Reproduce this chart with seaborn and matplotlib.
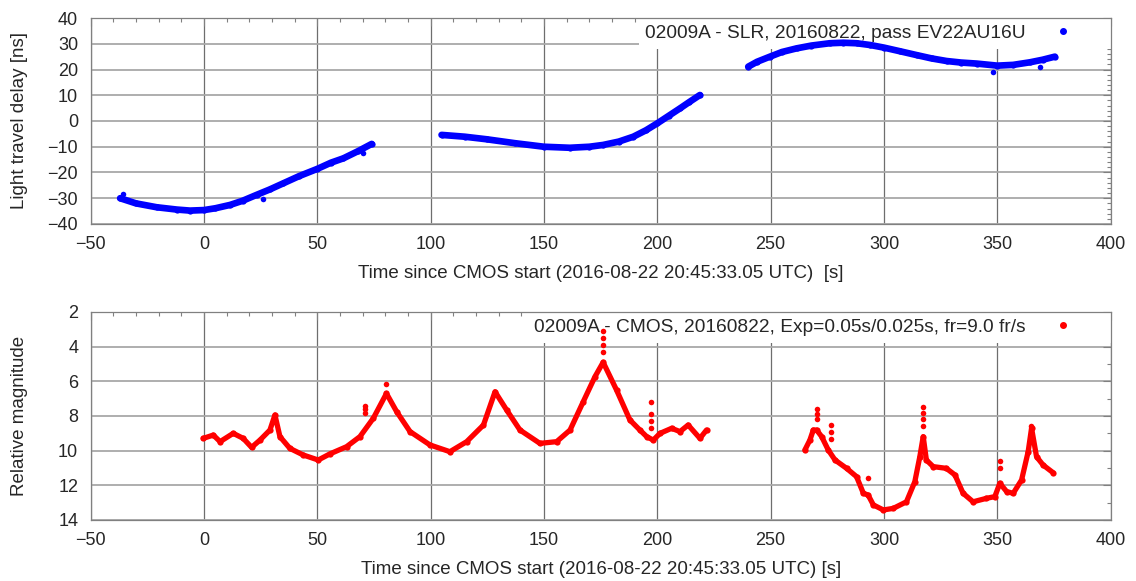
import seaborn as sns
import matplotlib.pyplot as plt
import pandas as pd
import numpy as np
from matplotlib.lines import Line2D
from matplotlib.ticker import MultipleLocator

# SLR light travel delay (three passes)
slr_t1 = [-37, -30, -20.9, -12, -6.2, 0, 5, 11.5, 17, 23.2, 29, 35, 42, 50, 56, 61.5, 68, 74]
slr_d1 = [-30, -32, -33.5, -34.4, -34.8, -34.6, -33.9, -32.6, -31.0, -28.7, -26.6, -24.2,
          -21.4, -18.6, -16.2, -14.5, -11.7, -8.9]
slr_t2 = [104.8, 115, 124.7, 137, 150, 161.4, 170, 176.1, 183, 189.4, 195, 200, 205, 210, 214, 218.8]
slr_d2 = [-5.4, -6.1, -7.1, -8.6, -10.0, -10.4, -10.0, -9.3, -8.0, -6.1, -3.6, -0.9, 2.0,
          4.9, 7.3, 10.1]
slr_t3 = [240.1, 244, 249.7, 255, 261.4, 268, 276.1, 282, 287.9, 294, 300, 307, 314.4,
          321, 327.6, 334, 340.9, 350, 357, 364.4, 370, 375.4]
slr_d3 = [21.1, 23.0, 25.0, 26.8, 28.2, 29.3, 30.2, 30.4, 30.2, 29.5, 28.5, 27.1, 25.6,
          24.3, 23.3, 22.7, 22.3, 21.5, 21.8, 22.8, 23.8, 25.0]
slr_out_t = [-35.6, 26.2, 70.3, 348, 368.8]
slr_out_d = [-28.3, -30.4, -12.5, 19.2, 21.1]

# CMOS relative magnitude
cmos_t1 = [-0.3, 4.1, 7.1, 12.9, 17.3, 21.0, 24.7, 29.1, 31.3, 33.5, 37.9, 43.8, 50.4,
           55.5, 62.9, 68.8, 74.7, 80.5, 85.0, 90.9, 99.7, 108.5, 115.9, 123.3, 128.4,
           133.5, 139.4, 148.2, 155.6, 161.5, 167.3, 172.5, 176.1, 182.0, 187.9, 192.3,
           195.3, 198.2, 201.2, 206.3, 210.0, 213.6, 218.8, 221.7]
cmos_m1 = [9.29, 9.1, 9.48, 9.0, 9.29, 9.81, 9.39, 8.81, 7.94, 9.19, 9.87, 10.25, 10.54,
           10.19, 9.77, 9.19, 8.13, 6.7, 7.75, 8.90, 9.67, 10.06, 9.48, 8.52, 6.6,
           7.65, 8.81, 9.58, 9.48, 8.81, 7.18, 5.73, 4.9, 6.5, 8.23, 8.81,
           9.19, 9.39, 9.0, 8.71, 8.9, 8.52, 9.29, 8.81]
cmos_t2 = [265.1, 267.3, 268.8, 270.3, 272.5, 275.4, 278.4, 283.5, 287.9, 290.9, 293.0,
           295.3, 299.7, 304.1, 309.9, 313.6, 315.8, 317.3, 318.7, 321.7, 327.5, 331.3,
           334.9, 339.3, 345.2, 348.9, 351.1, 354.1, 357.0, 360.7, 363.6, 365.1, 367.3,
           370.2, 374.6]
cmos_m2 = [9.96, 9.39, 8.81, 8.81, 9.19, 9.96, 10.54, 11.02, 11.5, 12.46, 12.56,
           13.13, 13.42, 13.33, 12.95, 11.79, 10.35, 9.19, 10.54, 10.92, 11.02, 11.4,
           12.46, 12.95, 12.75, 12.65, 11.88, 12.36, 12.46, 11.69, 10.06, 8.7, 10.35,
           10.83, 11.27]
# isolated spikes (single frames)
cmos_out_t = [71, 71, 71, 80.5, 176, 176, 176, 176, 197, 197, 197, 197,
              270.3, 270.3, 270.3, 276.4, 276.4, 276.4, 292.8, 317.3, 317.3, 317.3, 317.3,
              351.1, 351.1, 365]
cmos_out_m = [7.4, 7.6, 7.85, 6.15, 3.1, 3.5, 3.9, 4.3, 7.2, 7.9, 8.3, 8.7,
              7.6, 7.9, 8.2, 8.5, 8.9, 9.3, 11.6, 7.46, 7.8, 8.2, 8.6,
              10.6, 11.0, 8.6]

slr_label = '02009A - SLR, 20160822, pass EV22AU16U'
cmos_label = '02009A - CMOS, 20160822, Exp=0.05s/0.025s, fr=9.0 fr/s'
xlab_top = 'Time since CMOS start (2016-08-22 20:45:33.05 UTC)  [s]'
xlab_bot = 'Time since CMOS start (2016-08-22 20:45:33.05 UTC) [s]'

sns.set_style("white")
plt.rcParams['font.family'] = ['Liberation Sans', 'DejaVu Sans']
plt.rcParams['font.size'] = 13

fig = plt.figure(figsize=(11.36, 5.81), dpi=100)
ax1 = fig.add_axes([0.0798, 0.6145, 0.8979, 0.3545])
ax2 = fig.add_axes([0.0798, 0.105, 0.8979, 0.358])


def style(ax, ymaj, ymin):
    ax.set_xlim(-50, 400)
    ax.xaxis.set_major_locator(MultipleLocator(50))
    ax.xaxis.set_minor_locator(MultipleLocator(10))
    ax.yaxis.set_major_locator(MultipleLocator(ymaj))
    ax.yaxis.set_minor_locator(MultipleLocator(ymin))
    ax.tick_params(which='both', direction='in', top=True, right=True,
                   color='#808080', labelsize=13)
    ax.tick_params(which='major', length=6, width=0.8)
    ax.tick_params(which='minor', length=3, width=0.8)
    ax.tick_params(axis='x', pad=9)
    ax.tick_params(axis='y', pad=9)
    for s in ax.spines.values():
        s.set_color('#808080')
        s.set_linewidth(0.9)
    ax.set_axisbelow(True)
    ax.grid(True, which='major', axis='x', color='#6e6e6e', lw=0.9)
    ax.grid(True, which='major', axis='y', color='#a8a8a8', lw=1.3)


def add_key(ax, color, label):
    h = Line2D([], [], marker='o', ls='', color=color, ms=4)
    leg = ax.legend([h], [label], loc='upper right', markerfirst=False,
                    frameon=True, fancybox=False, framealpha=1, facecolor='white',
                    edgecolor='none', borderaxespad=0, borderpad=0.35,
                    handletextpad=-0.23, handlelength=4.3, fontsize=13.8)
    leg.set_zorder(1.5)


# top panel
for t, d in [(slr_t1, slr_d1), (slr_t2, slr_d2), (slr_t3, slr_d3)]:
    sns.lineplot(x=t, y=d, ax=ax1, color='#0000ff', lw=4.8, sort=False,
                 marker='o', markersize=4.5, markeredgewidth=0, zorder=3)
sns.scatterplot(x=slr_out_t, y=slr_out_d, ax=ax1, color='#0000ff', s=16,
                linewidth=0, zorder=3)
style(ax1, 10, 2)
ax1.set_ylim(-40, 40)
ax1.set_xlabel(xlab_top, fontsize=13.5, labelpad=8)
ax1.set_ylabel('Light travel delay [ns]', fontsize=13.5)
ax1.yaxis.set_label_coords(-0.0615, 0.5)
add_key(ax1, '#0000ff', slr_label)

# bottom panel
for t, m in [(cmos_t1, cmos_m1), (cmos_t2, cmos_m2)]:
    sns.lineplot(x=t, y=m, ax=ax2, color='#ff0000', lw=3.8, sort=False,
                 marker='o', markersize=4.5, markeredgewidth=0, zorder=3)
sns.scatterplot(x=cmos_out_t, y=cmos_out_m, ax=ax2, color='#ff0000', s=16,
                linewidth=0, zorder=3)
style(ax2, 2, 1)
ax2.set_ylim(14, 2)
ax2.set_xlabel(xlab_bot, fontsize=13.5, labelpad=8)
ax2.set_ylabel('Relative magnitude', fontsize=13.5)
ax2.yaxis.set_label_coords(-0.0615, 0.5)
add_key(ax2, '#ff0000', cmos_label)

fig.savefig('out.png', dpi=100)
